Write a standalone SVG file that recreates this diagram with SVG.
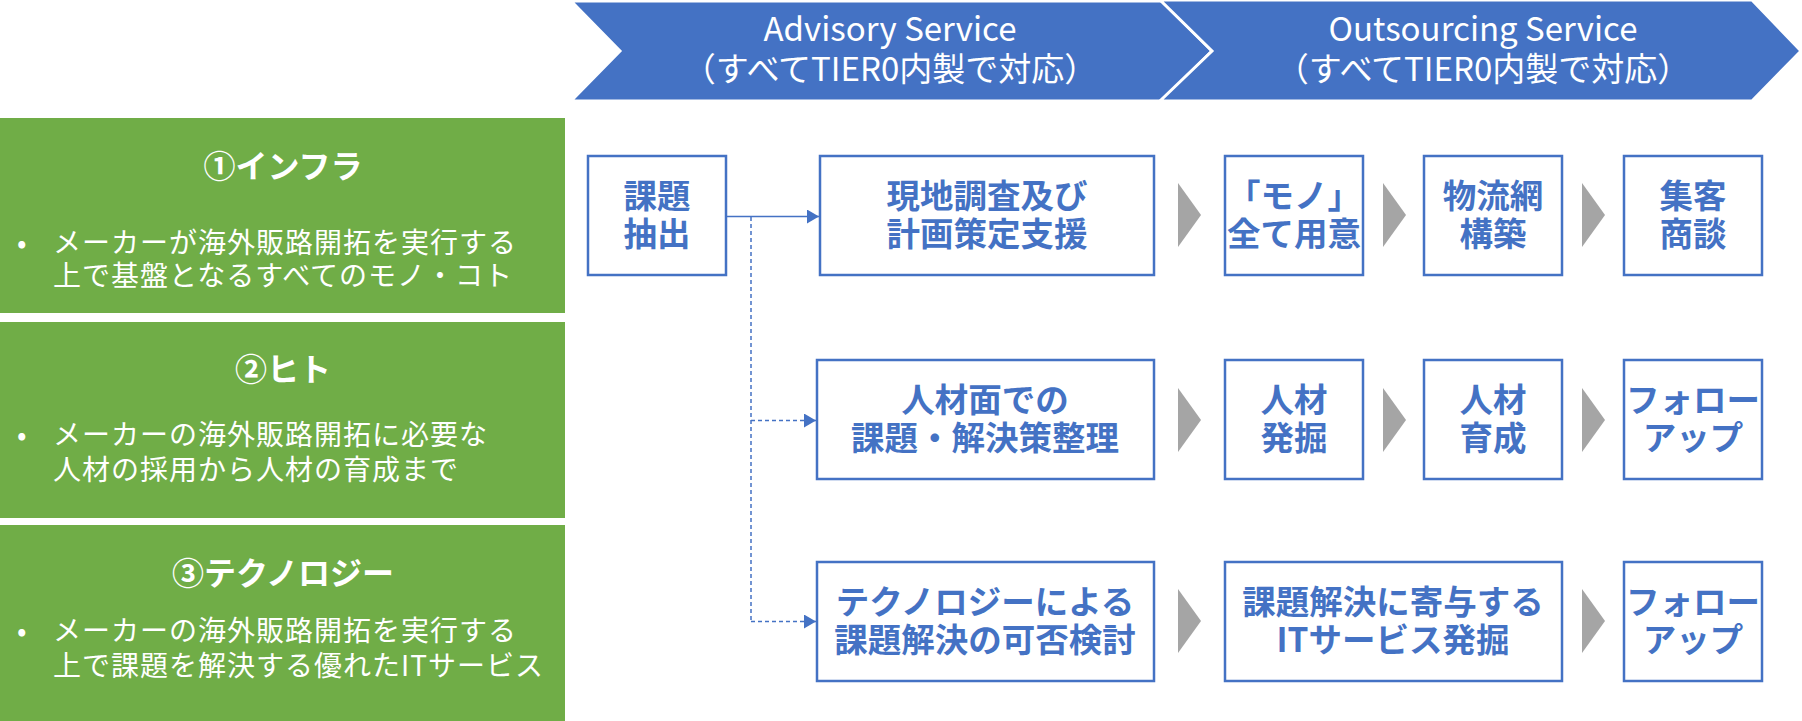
<svg xmlns="http://www.w3.org/2000/svg" width="1802" height="721" viewBox="0 0 1802 721">
<style>
.hdr{fill:#4472C4;stroke:#FFFFFF;stroke-width:3;stroke-linejoin:miter}
.hdrt{font-family:"Noto Sans CJK JP","Noto Sans",sans-serif;font-size:33px;fill:#FFFFFF;text-anchor:middle}
.gbox{fill:#70AD47}
.gt{font-family:"Noto Sans CJK JP",sans-serif;font-size:32px;font-weight:bold;fill:#FFFFFF;text-anchor:middle}
.gl{font-family:"Noto Sans CJK JP",sans-serif;font-size:28px;letter-spacing:1px;fill:#FFFFFF}
.nb{fill:#FFFFFF;stroke:#4472C4;stroke-width:2.5}
.nt{font-family:"Noto Sans CJK JP",sans-serif;font-size:33.5px;font-weight:bold;fill:#4472C4;text-anchor:middle}
.gray{fill:#A5A5A5}
.cl{fill:none;stroke:#4472C4;stroke-width:1.5}
.dl{fill:none;stroke:#4472C4;stroke-width:1.5;stroke-dasharray:4 3}
</style>
<defs>
<marker id="ah" markerUnits="userSpaceOnUse" markerWidth="13" markerHeight="14" refX="12" refY="7" orient="auto">
<path d="M0,0 L12,7 L0,14 Z" fill="#4472C4"/>
</marker>
</defs>

<g id="header-advisory">
<polygon class="hdr" points="571,1 1162,1 1212,51 1162,101 571,101 620,51" stroke="none"/>
<text class="hdrt" x="890" y="41">Advisory Service</text>
<text class="hdrt" x="890" y="81">（すべてTIER0内製で対応）</text>
</g>
<g id="header-outsourcing">
<polygon class="hdr" points="1160,0 1752,0 1801,51 1752,101 1160,101 1212,51"/>
<text class="hdrt" x="1483" y="41">Outsourcing Service</text>
<text class="hdrt" x="1483" y="81">（すべてTIER0内製で対応）</text>
</g>

<g id="cat-infra">
<rect class="gbox" x="0" y="118" width="565" height="195"/>
<text class="gt" x="283" y="178">①インフラ</text>
<text class="gl" x="17" y="253">•</text>
<text class="gl" x="53" y="253">メーカーが海外販路開拓を実行する</text>
<text class="gl" x="53" y="286">上で基盤となるすべてのモノ・コト</text>
</g>
<g id="cat-hito">
<rect class="gbox" x="0" y="322" width="565" height="196"/>
<text class="gt" x="283" y="381">②ヒト</text>
<text class="gl" x="17" y="445">•</text>
<text class="gl" x="53" y="445">メーカーの海外販路開拓に必要な</text>
<text class="gl" x="53" y="480">人材の採用から人材の育成まで</text>
</g>
<g id="cat-tech">
<rect class="gbox" x="0" y="525" width="565" height="196"/>
<text class="gt" x="283" y="585">③テクノロジー</text>
<text class="gl" x="17" y="641">•</text>
<text class="gl" x="53" y="641">メーカーの海外販路開拓を実行する</text>
<text class="gl" x="53" y="676">上で課題を解決する優れたITサービス</text>
</g>

<g id="n-kadai">
<rect class="nb" x="588" y="156" width="138" height="119"/>
<text class="nt" x="657" y="208">課題</text>
<text class="nt" x="657" y="246">抽出</text>
</g>

<g id="n-genchi">
<rect class="nb" x="820" y="156" width="334" height="119"/>
<text class="nt" x="987" y="208">現地調査及び</text>
<text class="nt" x="987" y="246">計画策定支援</text>
</g>
<g id="n-mono">
<rect class="nb" x="1225" y="156" width="138" height="119"/>
<text class="nt" x="1294" y="208">「モノ」</text>
<text class="nt" x="1294" y="246">全て用意</text>
</g>
<g id="n-butsuryu">
<rect class="nb" x="1424" y="156" width="138" height="119"/>
<text class="nt" x="1493" y="208">物流網</text>
<text class="nt" x="1493" y="246">構築</text>
</g>
<g id="n-shukyaku">
<rect class="nb" x="1624" y="156" width="138" height="119"/>
<text class="nt" x="1693" y="208">集客</text>
<text class="nt" x="1693" y="246">商談</text>
</g>

<g id="n-jinzai-seiri">
<rect class="nb" x="817" y="360" width="337" height="119"/>
<text class="nt" x="985" y="412">人材面での</text>
<text class="nt" x="985" y="450">課題・解決策整理</text>
</g>
<g id="n-jinzai-hakkutsu">
<rect class="nb" x="1225" y="360" width="138" height="119"/>
<text class="nt" x="1294" y="412">人材</text>
<text class="nt" x="1294" y="450">発掘</text>
</g>
<g id="n-jinzai-ikusei">
<rect class="nb" x="1424" y="360" width="138" height="119"/>
<text class="nt" x="1493" y="412">人材</text>
<text class="nt" x="1493" y="450">育成</text>
</g>
<g id="n-follow1">
<rect class="nb" x="1624" y="360" width="138" height="119"/>
<text class="nt" x="1693" y="412">フォロー</text>
<text class="nt" x="1693" y="450">アップ</text>
</g>

<g id="n-tech-kento">
<rect class="nb" x="817" y="562" width="337" height="119"/>
<text class="nt" x="985" y="614">テクノロジーによる</text>
<text class="nt" x="985" y="652">課題解決の可否検討</text>
</g>
<g id="n-it">
<rect class="nb" x="1225" y="562" width="337" height="119"/>
<text class="nt" x="1393" y="614">課題解決に寄与する</text>
<text class="nt" x="1393" y="652">ITサービス発掘</text>
</g>
<g id="n-follow2">
<rect class="nb" x="1624" y="562" width="138" height="119"/>
<text class="nt" x="1693" y="614">フォロー</text>
<text class="nt" x="1693" y="652">アップ</text>
</g>

<g id="connectors">
<line class="cl" x1="727" y1="216.5" x2="819" y2="216.5" marker-end="url(#ah)"/>
<path class="dl" d="M751,217 V622"/>
<line class="dl" x1="751" y1="420.5" x2="816" y2="420.5" marker-end="url(#ah)"/>
<line class="dl" x1="751" y1="621.5" x2="816" y2="621.5" marker-end="url(#ah)"/>
<polygon class="gray" points="1178,183 1201,215 1178,247"/>
<polygon class="gray" points="1383,183 1406,215 1383,247"/>
<polygon class="gray" points="1582,183 1605,215 1582,247"/>
<polygon class="gray" points="1178,388 1201,420 1178,452"/>
<polygon class="gray" points="1383,388 1406,420 1383,452"/>
<polygon class="gray" points="1582,388 1605,420 1582,452"/>
<polygon class="gray" points="1178,589 1201,621 1178,653"/>
<polygon class="gray" points="1582,589 1605,621 1582,653"/>
</g>
</svg>
